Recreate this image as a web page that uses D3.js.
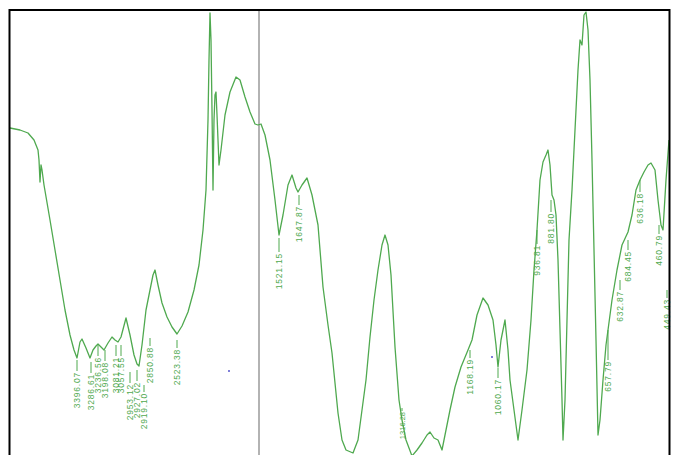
<!DOCTYPE html>
<html><head><meta charset="utf-8">
<script src="https://cdn.jsdelivr.net/npm/d3@7"></script>
<style>body{margin:0;background:#fff}svg{display:block}</style>
</head><body>
<script>
// Wavenumber (cm-1) positions along the spectrum
const wavenumbers = [4000,3950,3910,3880,3860,3855,3850,3845,3840,3830,3800,3775,3750,3725,3700,3680,3665,3650,3640,3620,3600,3585,3570,3560,3545,3530,3510,3490,3475,3460,3445,3420,3400,3380,3365,3355,3340,3320,3300,3285,3275,3260,3240,3215,3190,3165,3140,3110,3080,3055,3035,3020,3010,3005,3000,2995,2990,2985,2980,2975,2970,2965,2955,2945,2925,2900,2870,2850,2825,2800,2775,2760,2745,2725,2700,2675,2655,2635,2610,2590,2570,2560,2540,2515,2490,2460,2435,2410,2390,2360,2340,2320,2285,2260,2240,2220,2200,2180,2160,2140,2125,2110,2095,2075,2055,2040,2020,1990,1965,1940,1915,1900,1880,1860,1840,1820,1800,1775,1745,1710,1690,1665,1635,1610,1585,1570,1560,1545,1525,1510,1500,1480,1460,1440,1415,1395,1380,1365,1350,1335,1320,1310,1300,1290,1280,1270,1260,1250,1240,1235,1225,1215,1205,1190,1175,1160,1150,1140,1130,1120,1110,1100,1090,1080,1070,1060,1050,1035,1020,1010,990,965,940,910,890,870,850,830,810,795,775,760,745,735,720,705];
// Transmittance (%)
const transmittance = [66.4,66,65.4,64,62,60,55.6,59,58,55,48,42,36,30,25,22,20.4,23.6,24.2,22.4,20.4,22,22.8,23.2,22.6,22,23.4,24.6,24,23.6,24.6,28.4,25,21,19.2,18.8,23,30,34,37,38,35,31.4,28.6,26.6,25.2,26.8,29.6,34,39,46,54,68,80,89.4,84,70,54,68,73,73.6,69,59,62,69,73.6,76.6,76,72.6,69.6,67.2,67,67.2,65,60,52,45,49,55,57,54.4,53.6,55,56.4,53,47,34.6,27,21.4,9.4,4,2,1.4,4,10,16,24.6,32,38,43,45,43,37,22.6,12,8,4,0.8,2,3.4,5,5.6,4.4,4,2,6,10,14.6,18.6,22,24,29,32.4,31,28,23,18.6,24,28,22,16,10,4,10,18,28,38,46,56,59.6,61,62,59,53,52,49,40,26,12,4,12,28,44,54,66,78,84,83,89,89.6,86,76,60,42,24,5,8,16,23,26,32,38,43,45.6,49,54,56,57.6,59,59.4,58,52,47,46,56,64];

// Peak annotations: position (cm-1 along the axis), tick top (%T), printed label
const peakPos  = [3665,3595,3560,3525,3470,3445,3400,3365,3330,3300,3165,2655,2555,2040,1700,1560,1365,1295,1010,950,910,850,755,715];
const peakTop  = [20,19.6,23,22,23,23,17.6,18,15,24.4,24,44.4,53,10.4,22,18.4,46,52,26,36,44,56,47,34];
const peakText = ["3396.07","3286.61","3236.56","3198.08","3081.21","3057.55","2953.12","2927.02","2919.10","2850.88","2523.38","1521.15","1647.87","1316.28","1168.19","1060.17","936.81","881.80","657.79","632.87","684.45","636.18","460.79","449.43"];
const tickLen  = [11,11,11,11,11,11,11,11,7,8,8,14,10,3,8,10,14,12,30,10,10,12,9,8];

const splitAt = 2755; // grey divider position
const specks = [[2905,17.8],[1590,20.6]];

const W = 673, H = 455;
const svg = d3.select("body").append("svg").attr("width", W).attr("height", H);

const x = d3.scaleLinear().domain([4000, 700]).range([10, 670]);
const y = d3.scaleLinear().domain([0, 90]).range([460, 10]);

const green = "#4fa94f";

// divider
svg.append("line")
  .attr("x1", x(splitAt)).attr("x2", x(splitAt))
  .attr("y1", 10).attr("y2", H)
  .attr("stroke", "#9a9a9a").attr("stroke-width", 1.5);

const pts = wavenumbers.map((w, i) => [w, transmittance[i]]);
svg.append("path")
  .datum(pts)
  .attr("d", d3.line().x(d => x(d[0])).y(d => y(d[1])))
  .attr("fill", "none").attr("stroke", green).attr("stroke-width", 1.3)
  .attr("stroke-linejoin", "round");

const g = svg.append("g");
peakPos.forEach((p, i) => {
  const px = x(p), py = y(peakTop[i]), tl = tickLen[i];
  g.append("line").attr("x1", px).attr("x2", px).attr("y1", py).attr("y2", py + tl)
    .attr("stroke", green).attr("stroke-width", 1);
  g.append("text")
    .attr("transform", `translate(${px + 3},${py + tl + 1}) rotate(-90)`)
    .attr("text-anchor", "end")
    .attr("font-family", "Liberation Sans, Arial, sans-serif")
    .attr("font-size", i === 13 ? 7.5 : 8.5)
    .attr("letter-spacing", i === 13 ? 0 : 0.8)
    .attr("fill", green)
    .text(peakText[i]);
});

svg.selectAll("circle.speck").data(specks).enter().append("circle")
  .attr("cx", d => x(d[0])).attr("cy", d => y(d[1])).attr("r", 1)
  .attr("fill", "#5555cc");

// frame
svg.append("rect").attr("x", 9.5).attr("y", 10).attr("width", 660).attr("height", 460)
  .attr("fill", "none").attr("stroke", "#000").attr("stroke-width", 2);
</script>
</body></html>
